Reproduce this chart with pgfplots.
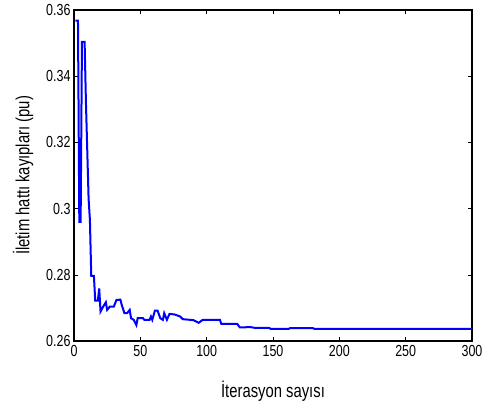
\documentclass[border=0pt]{standalone}
\usepackage{fontspec}
\setmainfont{Liberation Sans}[FakeStretch=0.78]
\usepackage{pgfplots}
\pgfplotsset{compat=1.18}

\begin{document}
\begin{tikzpicture}
\begin{axis}[
    scale only axis,
    width=398pt,
    height=331pt,
    xmin=0, xmax=300,
    ymin=0.26, ymax=0.36,
    xtick={0,50,...,300},
    ytick={0.26,0.28,0.3,0.32,0.34,0.36},
    yticklabels={0.26,0.28,0.3,0.32,0.34,0.36},
    /pgf/number format/assume math mode=true,
    tick label style={font=\fontsize{16}{16}\selectfont},
    label style={font=\fontsize{19}{19}\selectfont},
    xticklabel style={yshift=-1pt},
    tick align=inside,
    major tick length=4pt,
    axis line style={line width=1.1pt},
    tick style={black, line width=0.6pt},
    xlabel={İterasyon sayısı},
    ylabel={İletim hattı kayıpları (pu)},
    xlabel style={at={(axis description cs:0.5,-0.152)}, anchor=center},
    ylabel style={at={(axis description cs:-0.128,0.5)}, anchor=center},
]
\addplot[blue, line width=2pt] coordinates {
    (1,0.3568) (3,0.3568) (4,0.2960) (5,0.2960) (6,0.3504) (8,0.3504)
    (9,0.3320) (11,0.3030) (12,0.2965) (13,0.2797) (15,0.2797) (16,0.2722)
    (18,0.2722) (19,0.2759) (20,0.2689) (22,0.2704) (24,0.2717) (25,0.2694)
    (27,0.2704) (30,0.2704) (32,0.2724) (35,0.2725) (36,0.2709) (38,0.2684)
    (40,0.2684) (42,0.2694) (43,0.2669) (45,0.2664) (47,0.2648) (48,0.2669)
    (52,0.2669) (53,0.2664) (57,0.2664) (58,0.2674) (59,0.2664) (61,0.2692)
    (63,0.2692) (65,0.2669) (67,0.2664) (68,0.2684) (70,0.2664) (72,0.2682)
    (76,0.2680) (80,0.2674) (82,0.2666) (90,0.2663) (94,0.2655) (97,0.2664)
    (110,0.2664) (111,0.2652) (123,0.2652) (125,0.2641) (133,0.2642)
    (136,0.2640) (147,0.2640) (148,0.2637) (162,0.2637) (163,0.2639)
    (180,0.2639) (181,0.2637) (300,0.2637)
};
\end{axis}
\path (current axis.south west) ++(-74pt,-67pt);
\path (current axis.north east) ++(17pt,10pt);
\end{tikzpicture}
\end{document}
